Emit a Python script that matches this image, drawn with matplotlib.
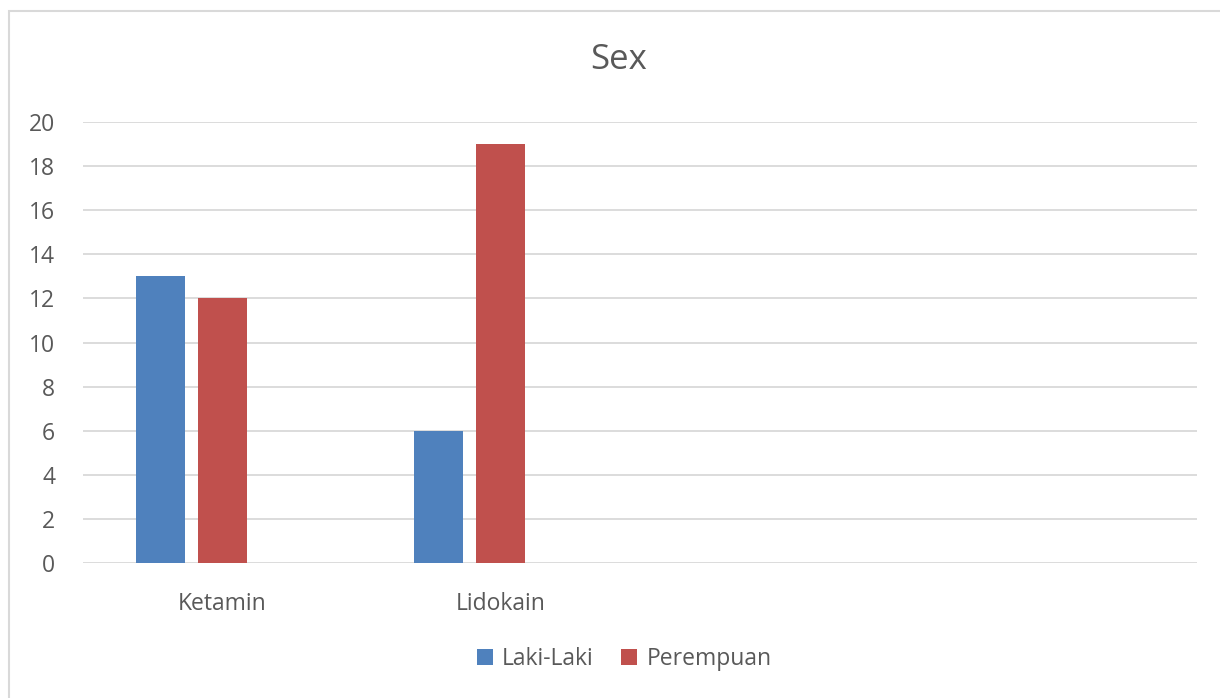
import matplotlib
matplotlib.use("Agg")
import matplotlib.pyplot as plt
from matplotlib.patches import Rectangle
import numpy as np

plt.rcParams['font.family'] = ['Open Sans', 'DejaVu Sans']

categories = ["Ketamin", "Lidokain", "", ""]
series_names = ["Laki-Laki", "Perempuan"]
laki_laki = [13, 6, None, None]
perempuan = [12, 19, None, None]
colors = ["#4F81BD", "#C0504D"]
yticks = [0, 2, 4, 6, 8, 10, 12, 14, 16, 18, 20]

W, H = 1220, 698
fig = plt.figure(figsize=(W / 100, H / 100), dpi=100)

# chart frame
fig.patches.append(Rectangle((9 / W, -0.05), 1.2, 1 - 11 / H + 0.05,
                             transform=fig.transFigure, fill=False,
                             edgecolor="#d9d9d9", linewidth=1.5))

ax = fig.add_axes([83 / W, 1 - 563 / H, (1197 - 83) / W, (563 - 122) / H])

n = len(categories)
x = np.arange(n)
slot = 62 / 278.5       # spacing between series slots within a category
bw = 49 / 278.5         # bar width
for i, (vals, c, name) in enumerate(zip([laki_laki, perempuan], colors, series_names)):
    xs = [xi + (i - 1) * slot for xi, v in zip(x, vals) if v is not None]
    vs = [v for v in vals if v is not None]
    ax.bar(xs, vs, width=bw, color=c, label=name, zorder=3)

ax.set_xlim(-0.5, n - 0.5)
ax.set_ylim(0, 20)
ax.set_yticks(yticks)
ax.set_xticks(x)
ax.set_xticklabels(categories)
ax.grid(axis="y", color="#d9d9d9", linewidth=1.3, zorder=0)
for s in ax.spines.values():
    s.set_visible(False)
ax.tick_params(axis="both", length=0, labelsize=16.5, labelcolor="#595959")
ax.tick_params(axis="y", pad=20)
ax.tick_params(axis="x", pad=21)
for lbl in ax.get_yticklabels():
    lbl.set_horizontalalignment("right")

fig.text(619 / W, 1 - 60 / H, "Sex", ha="center", va="center",
         fontsize=25, color="#595959")

fig.legend(loc="center", bbox_to_anchor=(624 / W, 1 - 659 / H), ncol=2,
           frameon=False, fontsize=16.5, labelcolor="#595959",
           handlelength=0.7, handleheight=0.7, handletextpad=0.4,
           columnspacing=1.2)

fig.savefig("out.png", dpi=100)
